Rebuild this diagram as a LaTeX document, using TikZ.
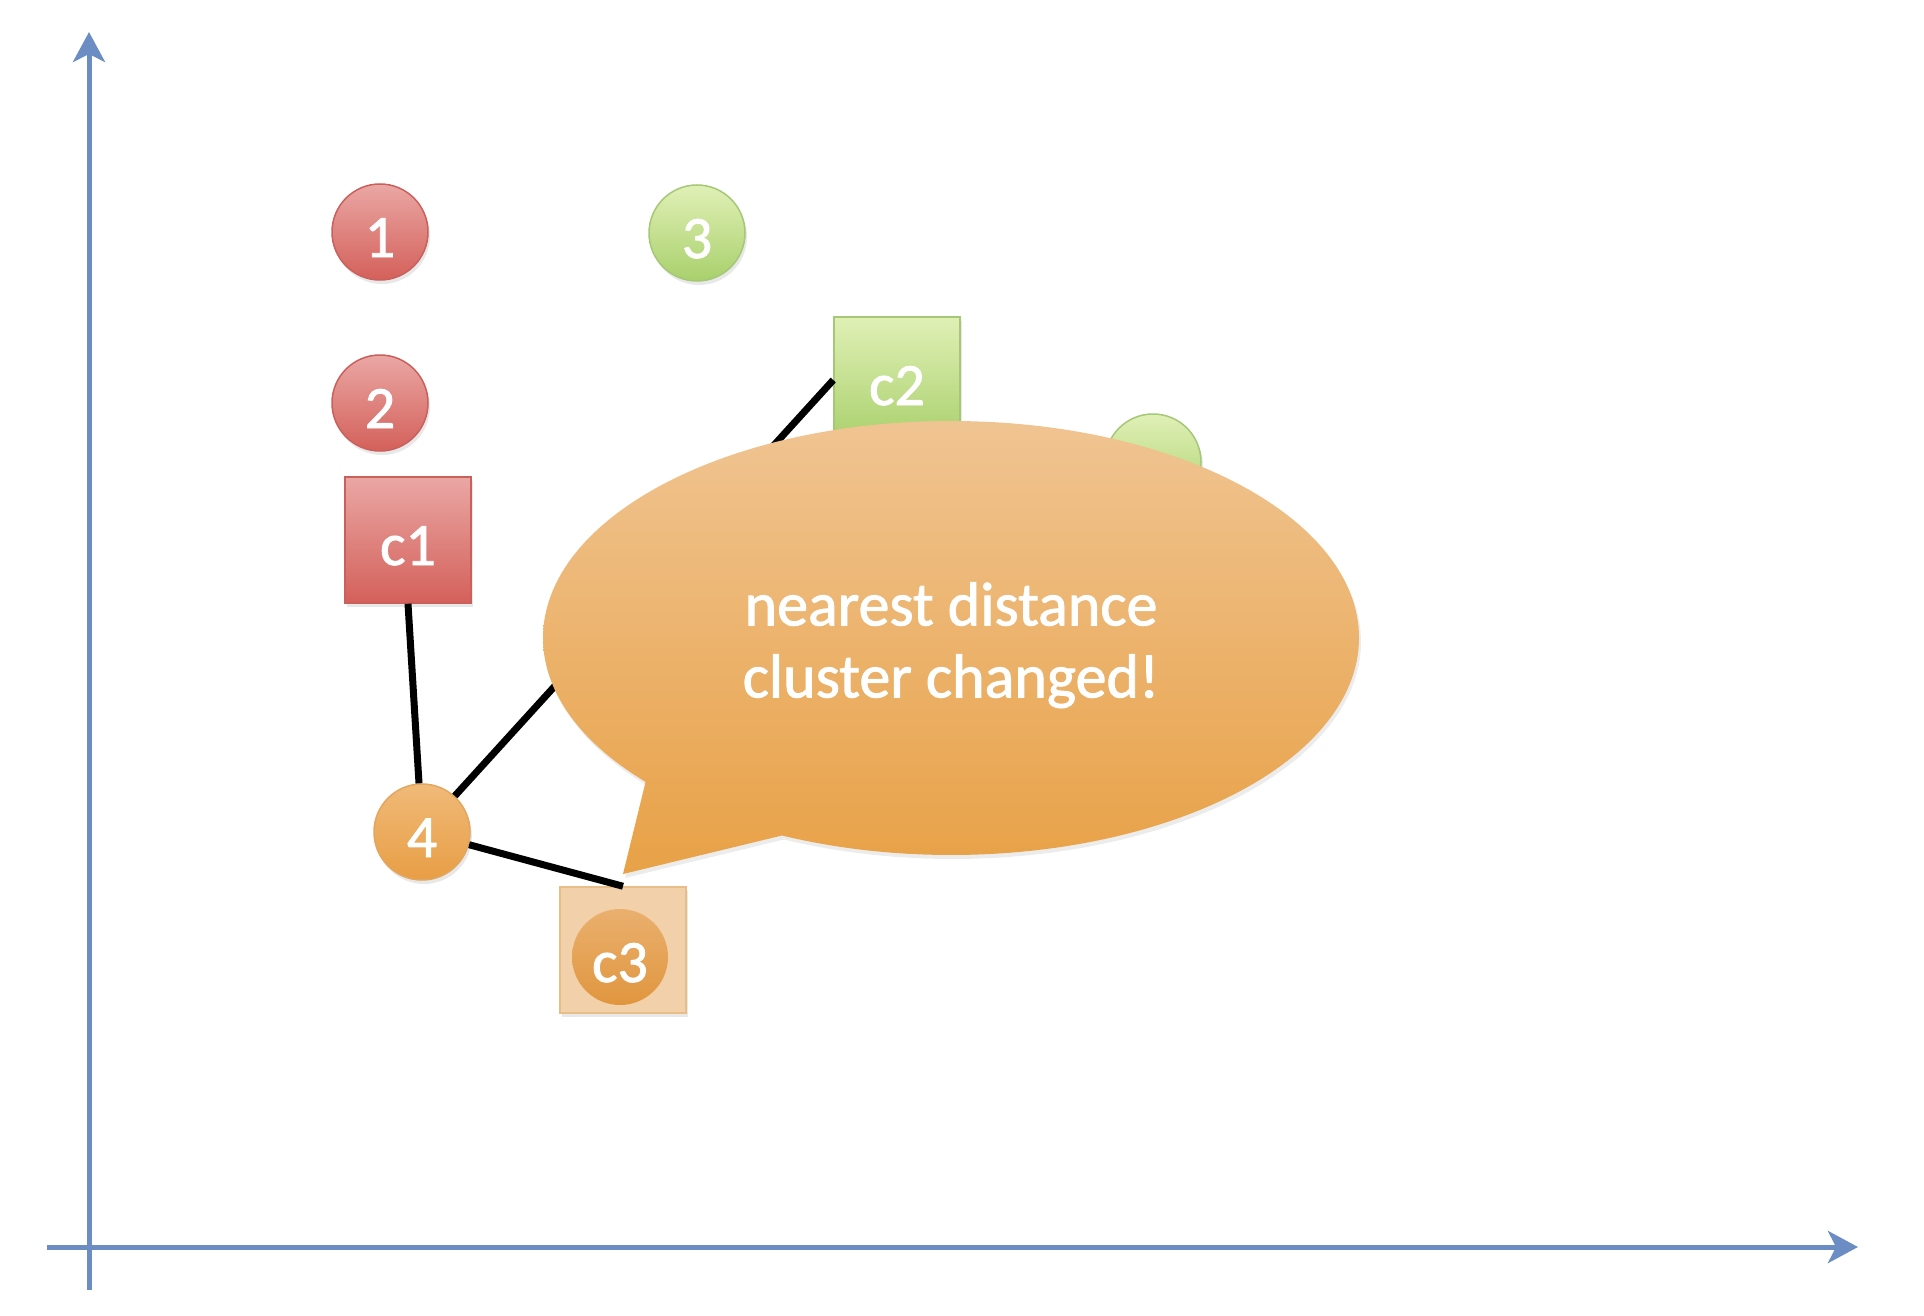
\documentclass[tikz,border=0pt]{standalone}
\usepackage{fontspec}
\setmainfont{Carlito}
\newfontfamily\lblfont[FakeBold=1.5]{Carlito}
\usetikzlibrary{arrows.meta,shapes.callouts,shadows}
\definecolor{axisblue}{HTML}{6B8DC4}
\definecolor{redT}{HTML}{EAA7A4}
\definecolor{redB}{HTML}{D4605A}
\definecolor{redD}{HTML}{C9605C}
\definecolor{grnT}{HTML}{E0F0B6}
\definecolor{grnB}{HTML}{A9D06C}
\definecolor{grnD}{HTML}{A5C877}
\definecolor{orgT}{HTML}{EFC18C}
\definecolor{orgB}{HTML}{E8A146}
\definecolor{orgD}{HTML}{E2A65E}
\definecolor{p4T}{HTML}{F0BA78}
\definecolor{p4B}{HTML}{E89E45}
\definecolor{c3sq}{HTML}{F2D1AA}
\definecolor{c3sqD}{HTML}{EBBD86}
\definecolor{c3cT}{HTML}{EAB06E}
\definecolor{c3cB}{HTML}{E0963E}
\begin{document}
\begin{tikzpicture}[x=1pt,y=-1pt,
  lab/.style={font=\lblfont\fontsize{60}{62}\selectfont, text=white, inner sep=0pt, text height=50pt, text depth=0pt},
  pt/.style={circle, minimum size=96pt, lab, line width=1.5pt,
     drop shadow={opacity=0.18, shadow xshift=2pt, shadow yshift=-4pt}},
  sq/.style={rectangle, minimum size=126pt, lab, line width=1.5pt,
     drop shadow={opacity=0.18, shadow xshift=2pt, shadow yshift=-4pt}},
  redfill/.style={top color=redT, bottom color=redB, draw=redD},
  grnfill/.style={top color=grnT, bottom color=grnB, draw=grnD},
  orgfill/.style={top color=p4T, bottom color=p4B, draw=orgD},
  axis/.style={draw=axisblue, line width=5pt, -{Stealth[length=30pt, width=32pt, inset=8pt]}},
  link/.style={draw=black, line width=7pt}
]
\useasboundingbox (0,0) rectangle (1924,1316);
% axes
\coordinate (ybot) at (89,1290);
\coordinate (ytop) at (89,32);
\coordinate (xleft) at (47,1247);
\coordinate (xright) at (1858,1247);
\draw[axis] (ybot) -- (ytop);
\draw[axis] (xleft) -- (xright);

% points
\node[pt, redfill] (p1) at (380,232) {1};
\node[pt, redfill] (p2) at (380,403) {2};
\node[pt, grnfill] (p3) at (697,233) {3};
\node[pt, grnfill] (p5) at (1153,462) {};
\node[pt, orgfill] (p4) at (422,832) {4};

% centroids
\node[sq, redfill] (c1) at (408,540) {c1};
\node[sq, grnfill] (c2) at (897,380) {c2};
\node[sq, fill=c3sq, draw=c3sqD] (c3) at (623,950) {};
\node[circle, minimum size=96pt, top color=c3cT, bottom color=c3cB, draw=none, lab] (c3in) at (620,957) {c3};

% links
\draw[link] (c1.south) -- (p4);
\draw[link] (p4) -- (c2.west);
\draw[link] (p4) -- (c3.north);

% callout
\node[ellipse callout, callout absolute pointer={(623,874)}, callout pointer arc=24,
      minimum width=816pt, minimum height=434pt, inner sep=0pt,
      top color=orgT!95!white, bottom color=orgB, draw=none,
      drop shadow={opacity=0.15, shadow xshift=2pt, shadow yshift=-4pt},
      font=\lblfont\fontsize{62}{72}\selectfont, text=white]
      (bubble) at (951,638) {\raisebox{-9pt}[\height][\depth]{\begin{tabular}{@{}c@{}}nearest distance\\cluster changed!\end{tabular}}};
\end{tikzpicture}
\end{document}
